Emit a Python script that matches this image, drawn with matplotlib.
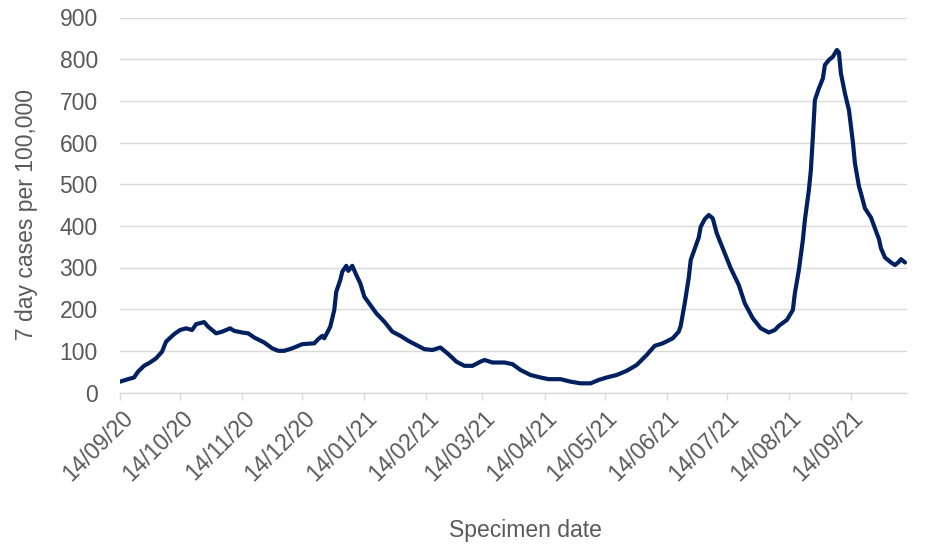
import matplotlib
matplotlib.use("Agg")
import matplotlib.pyplot as plt
import matplotlib.dates as mdates
import matplotlib.transforms as mtransforms
import pandas as pd

plt.rcParams['font.family'] = ['Liberation Sans', 'DejaVu Sans']

dates = [
    "2020-09-14", "2020-09-18", "2020-09-21", "2020-09-23", "2020-09-26", "2020-09-29",
    "2020-10-02", "2020-10-05", "2020-10-07", "2020-10-11", "2020-10-14", "2020-10-17",
    "2020-10-20", "2020-10-22", "2020-10-26", "2020-10-28", "2020-11-01", "2020-11-04",
    "2020-11-08", "2020-11-10", "2020-11-14", "2020-11-17", "2020-11-20", "2020-11-25",
    "2020-11-29", "2020-12-02", "2020-12-05", "2020-12-09", "2020-12-14", "2020-12-20",
    "2020-12-22", "2020-12-24", "2020-12-25", "2020-12-28", "2020-12-30", "2020-12-31",
    "2021-01-02", "2021-01-03", "2021-01-05", "2021-01-06", "2021-01-08", "2021-01-10",
    "2021-01-12", "2021-01-14", "2021-01-17", "2021-01-20", "2021-01-24", "2021-01-28",
    "2021-02-01", "2021-02-05", "2021-02-09", "2021-02-13", "2021-02-17", "2021-02-21",
    "2021-02-25", "2021-03-01", "2021-03-05", "2021-03-09", "2021-03-13", "2021-03-15",
    "2021-03-19", "2021-03-23", "2021-03-25", "2021-03-29", "2021-04-02", "2021-04-07",
    "2021-04-12", "2021-04-16", "2021-04-22", "2021-04-27", "2021-05-02", "2021-05-07",
    "2021-05-11", "2021-05-15", "2021-05-20", "2021-05-25", "2021-05-30", "2021-06-04",
    "2021-06-08", "2021-06-12", "2021-06-17", "2021-06-20", "2021-06-21", "2021-06-23",
    "2021-06-25", "2021-06-26", "2021-06-28", "2021-06-30", "2021-07-01", "2021-07-03",
    "2021-07-05", "2021-07-07", "2021-07-09", "2021-07-12", "2021-07-16", "2021-07-20",
    "2021-07-23", "2021-07-27", "2021-07-31", "2021-08-04", "2021-08-07", "2021-08-09",
    "2021-08-13", "2021-08-16", "2021-08-17", "2021-08-19", "2021-08-21", "2021-08-22",
    "2021-08-24", "2021-08-25", "2021-08-26", "2021-08-27", "2021-08-29", "2021-08-31",
    "2021-09-01", "2021-09-03", "2021-09-05", "2021-09-07", "2021-09-08", "2021-09-09",
    "2021-09-11", "2021-09-13", "2021-09-15", "2021-09-16", "2021-09-18", "2021-09-19",
    "2021-09-21", "2021-09-24", "2021-09-26", "2021-09-28", "2021-09-29", "2021-10-01",
    "2021-10-04", "2021-10-06", "2021-10-08", "2021-10-09", "2021-10-11",
]
cases = [
    26, 32, 36, 50, 64, 72,
    82, 98, 122, 140, 150, 154,
    150, 164, 169, 158, 142, 146,
    154, 148, 144, 142, 132, 120,
    106, 100, 100, 106, 116, 118,
    128, 136, 130, 158, 198, 242,
    270, 290, 304, 292, 304, 282,
    262, 230, 210, 190, 170, 146,
    136, 124, 114, 104, 102, 108,
    92, 74, 64, 64, 74, 78,
    72, 72, 72, 68, 54, 42,
    36, 32, 32, 26, 22, 22,
    30, 36, 42, 52, 66, 90,
    112, 118, 130, 146, 160, 214,
    275, 318, 345, 372, 398, 416,
    426, 418, 382, 346, 298, 258,
    214, 178, 154, 144, 150, 160,
    174, 198, 238, 294, 366, 414,
    486, 534, 614, 702, 730, 754,
    786, 798, 806, 822, 816, 766,
    718, 678, 600, 550, 495, 478,
    442, 420, 394, 368, 346, 324,
    312, 306, 314, 320, 312,
]
tick_dates = ["2020-09-14", "2020-10-14", "2020-11-14", "2020-12-14", "2021-01-14",
              "2021-02-14", "2021-03-14", "2021-04-14", "2021-05-14", "2021-06-14",
              "2021-07-14", "2021-08-14", "2021-09-14"]
y_ticks = [0, 100, 200, 300, 400, 500, 600, 700, 800, 900]

x = pd.to_datetime(dates)
xt = pd.to_datetime(tick_dates)

fig = plt.figure(figsize=(9.37, 5.55), dpi=100)
ax = fig.add_axes([120/937, 1-392.5/555, 787/937, 375/555])

grey_txt = '#595959'
grid_c = '#d9d9d9'
fs = 16.5

ax.plot(x, cases, color='#002060', lw=3.0, solid_joinstyle='round', solid_capstyle='round', zorder=3)

ax.set_xlim(pd.Timestamp("2020-09-14"), pd.Timestamp("2021-10-12"))
ax.set_ylim(0, 900)
ax.set_yticks(y_ticks)
ax.yaxis.grid(True, color=grid_c, lw=1.0)
ax.set_axisbelow(True)

for s in ['top', 'right', 'left']:
    ax.spines[s].set_visible(False)
ax.spines['bottom'].set_color(grid_c)
ax.spines['bottom'].set_linewidth(1.0)

ax.set_xticks(xt)
ax.xaxis.set_major_formatter(mdates.DateFormatter('%d/%m/%y'))
ax.tick_params(axis='x', colors=grid_c, length=5, width=1.0, labelcolor=grey_txt,
               labelsize=fs, pad=5)
ax.tick_params(axis='y', length=0, labelcolor=grey_txt, labelsize=fs, pad=16)

offset = mtransforms.ScaledTranslation(1/100, 0, fig.dpi_scale_trans)
for lab in ax.get_xticklabels():
    lab.set_rotation(45)
    lab.set_ha('right')
    lab.set_va('top')
    lab.set_rotation_mode('anchor')
    lab.set_transform(lab.get_transform() + offset)

ax.set_ylabel('7 day cases per 100,000', fontsize=fs, color=grey_txt)
ax.yaxis.set_label_coords(-0.104, 0.475)
fig.text(525/937, 1-530/555, 'Specimen date', fontsize=fs, color=grey_txt,
         ha='center', va='center')

fig.savefig('out.png', dpi=100)
